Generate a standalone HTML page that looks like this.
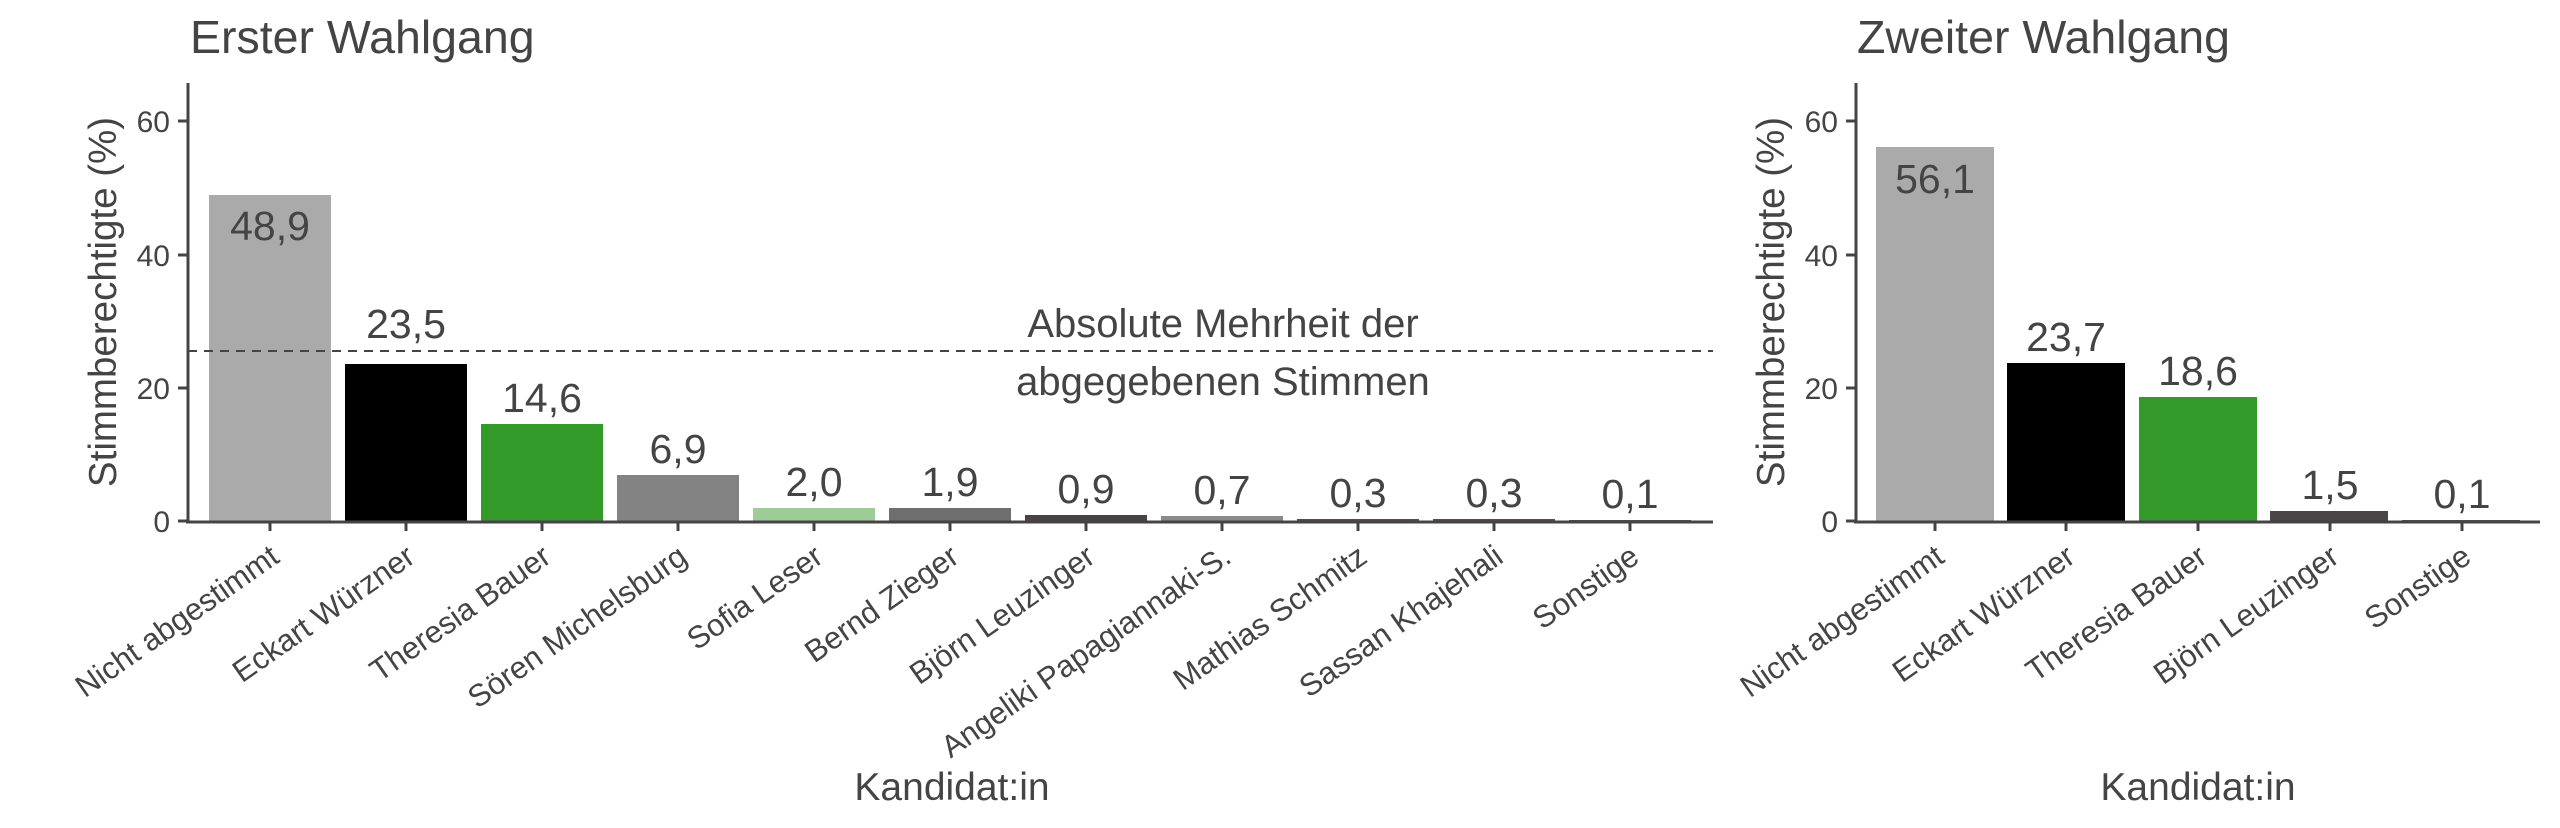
<!DOCTYPE html>
<html><head><meta charset="utf-8"><style>
html,body{margin:0;padding:0;background:#fff;}
svg{display:block;font-family:"Liberation Sans",Arial,sans-serif;}
text{fill:#444;}
</style></head><body>
<svg width="2560" height="828" viewBox="0 0 2560 828" xmlns="http://www.w3.org/2000/svg">
<!-- LEFT PANEL -->
<text x="190" y="53" font-size="46.5">Erster Wahlgang</text>
<rect x="209" y="195" width="122" height="326" fill="#aaaaaa"/>
<rect x="345" y="364" width="122" height="157" fill="#000"/>
<rect x="481" y="424" width="122" height="97" fill="#339a2a"/>
<rect x="617" y="475" width="122" height="46" fill="#838383"/>
<rect x="753" y="508" width="122" height="13" fill="#9dcc97"/>
<rect x="889" y="508" width="122" height="13" fill="#6e6e6e"/>
<rect x="1025" y="515" width="122" height="6" fill="#4a4244"/>
<rect x="1161" y="516" width="122" height="5" fill="#8a8a8a"/>
<rect x="1297" y="519" width="122" height="2" fill="#5a4a55"/>
<rect x="1433" y="519" width="122" height="2" fill="#5a4a55"/>
<rect x="1569" y="520" width="122" height="1" fill="#555"/>
<line x1="188" y1="351" x2="1713" y2="351" stroke="#444" stroke-width="2" stroke-dasharray="9,7"/>
<text x="1223" y="337" font-size="40" text-anchor="middle">Absolute Mehrheit der</text>
<text x="1223" y="395" font-size="40" text-anchor="middle">abgegebenen Stimmen</text>
<g font-size="41" text-anchor="middle">
<text x="270" y="240">48,9</text>
<text x="406" y="338">23,5</text>
<text x="542" y="412">14,6</text>
<text x="678" y="463">6,9</text>
<text x="814" y="496">2,0</text>
<text x="950" y="496">1,9</text>
<text x="1086" y="503">0,9</text>
<text x="1222" y="504">0,7</text>
<text x="1358" y="507">0,3</text>
<text x="1494" y="507">0,3</text>
<text x="1630" y="508">0,1</text>
</g>
<line x1="188" y1="83" x2="188" y2="522" stroke="#444" stroke-width="3"/>
<line x1="186" y1="522" x2="1713" y2="522" stroke="#444" stroke-width="3"/>
<g stroke="#444" stroke-width="3">
<line x1="178" y1="521" x2="188" y2="521"/><line x1="178" y1="388" x2="188" y2="388"/><line x1="178" y1="255" x2="188" y2="255"/><line x1="178" y1="121" x2="188" y2="121"/>
<line x1="270" y1="522" x2="270" y2="531"/><line x1="406" y1="522" x2="406" y2="531"/><line x1="542" y1="522" x2="542" y2="531"/><line x1="678" y1="522" x2="678" y2="531"/><line x1="814" y1="522" x2="814" y2="531"/><line x1="950" y1="522" x2="950" y2="531"/><line x1="1086" y1="522" x2="1086" y2="531"/><line x1="1222" y1="522" x2="1222" y2="531"/><line x1="1358" y1="522" x2="1358" y2="531"/><line x1="1494" y1="522" x2="1494" y2="531"/><line x1="1630" y1="522" x2="1630" y2="531"/>
</g>
<g font-size="30" text-anchor="end">
<text x="170" y="532">0</text><text x="170" y="399">20</text><text x="170" y="266">40</text><text x="170" y="132">60</text>
</g>
<text transform="translate(116,302) rotate(-90)" font-size="38.5" text-anchor="middle">Stimmberechtigte (%)</text>
<g font-size="31" text-anchor="end">
<text transform="translate(281,561) rotate(-35)">Nicht abgestimmt</text>
<text transform="translate(417,561) rotate(-35)">Eckart Würzner</text>
<text transform="translate(553,561) rotate(-35)">Theresia Bauer</text>
<text transform="translate(689,561) rotate(-35)">Sören Michelsburg</text>
<text transform="translate(825,561) rotate(-35)">Sofia Leser</text>
<text transform="translate(961,561) rotate(-35)">Bernd Zieger</text>
<text transform="translate(1097,561) rotate(-35)">Björn Leuzinger</text>
<text transform="translate(1233,561) rotate(-35)">Angeliki Papagiannaki-S.</text>
<text transform="translate(1369,561) rotate(-35)">Mathias Schmitz</text>
<text transform="translate(1505,561) rotate(-35)">Sassan Khajehali</text>
<text transform="translate(1641,561) rotate(-35)">Sonstige</text>
</g>
<text x="952" y="800" font-size="39" text-anchor="middle">Kandidat:in</text>

<!-- RIGHT PANEL -->
<text x="1857" y="53" font-size="46.5">Zweiter Wahlgang</text>
<rect x="1876" y="147" width="118" height="374" fill="#aaaaaa"/>
<rect x="2007" y="363" width="118" height="158" fill="#000"/>
<rect x="2139" y="397" width="118" height="124" fill="#339a2a"/>
<rect x="2270" y="511" width="118" height="10" fill="#4a4547"/>
<rect x="2402" y="520" width="118" height="1" fill="#555"/>
<g font-size="41" text-anchor="middle">
<text x="1935" y="193">56,1</text>
<text x="2066" y="351">23,7</text>
<text x="2198" y="385">18,6</text>
<text x="2330" y="499">1,5</text>
<text x="2462" y="508">0,1</text>
</g>
<line x1="1856" y1="83" x2="1856" y2="522" stroke="#444" stroke-width="3"/>
<line x1="1854" y1="522" x2="2540" y2="522" stroke="#444" stroke-width="3"/>
<g stroke="#444" stroke-width="3">
<line x1="1846" y1="521" x2="1856" y2="521"/><line x1="1846" y1="388" x2="1856" y2="388"/><line x1="1846" y1="255" x2="1856" y2="255"/><line x1="1846" y1="121" x2="1856" y2="121"/>
<line x1="1935" y1="522" x2="1935" y2="531"/><line x1="2066" y1="522" x2="2066" y2="531"/><line x1="2198" y1="522" x2="2198" y2="531"/><line x1="2330" y1="522" x2="2330" y2="531"/><line x1="2462" y1="522" x2="2462" y2="531"/>
</g>
<g font-size="30" text-anchor="end">
<text x="1838" y="532">0</text><text x="1838" y="399">20</text><text x="1838" y="266">40</text><text x="1838" y="132">60</text>
</g>
<text transform="translate(1784,302) rotate(-90)" font-size="38.5" text-anchor="middle">Stimmberechtigte (%)</text>
<g font-size="31" text-anchor="end">
<text transform="translate(1946,561) rotate(-35)">Nicht abgestimmt</text>
<text transform="translate(2077,561) rotate(-35)">Eckart Würzner</text>
<text transform="translate(2209,561) rotate(-35)">Theresia Bauer</text>
<text transform="translate(2341,561) rotate(-35)">Björn Leuzinger</text>
<text transform="translate(2473,561) rotate(-35)">Sonstige</text>
</g>
<text x="2198" y="800" font-size="39" text-anchor="middle">Kandidat:in</text>
</svg>
</body></html>
